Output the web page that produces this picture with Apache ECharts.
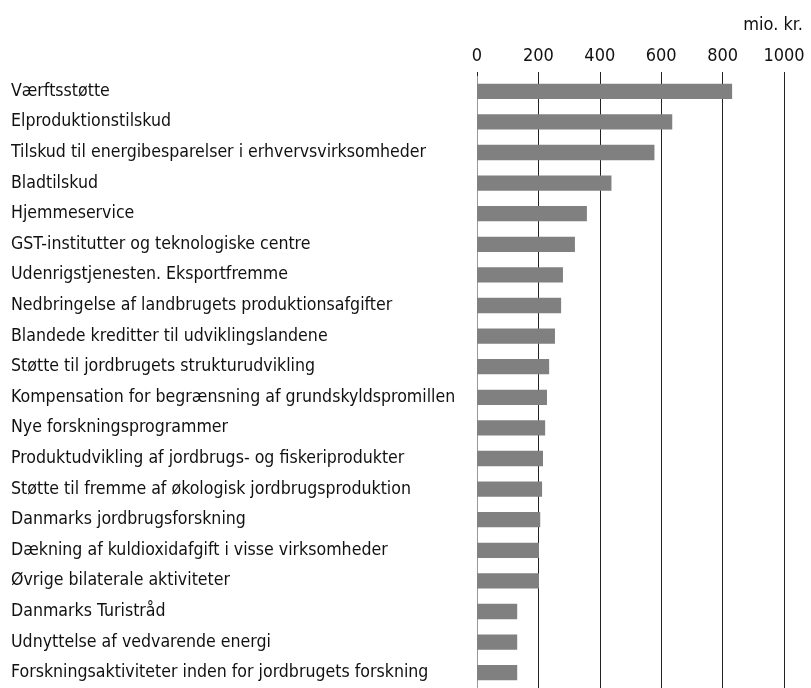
<!DOCTYPE html>
<html>
<head>
<meta charset="utf-8">
<script src="https://cdn.jsdelivr.net/npm/echarts@6/dist/echarts.min.js"></script>
<style>
  html, body { margin: 0; padding: 0; background: #fff; }
  #chart { width: 811px; height: 688px; }
</style>
</head>
<body>
<div id="chart"></div>
<script>
// støtteordninger, mio. kr.
var categories = [
  'Værftsstøtte',
  'Elproduktionstilskud',
  'Tilskud til energibesparelser i erhvervsvirksomheder',
  'Bladtilskud',
  'Hjemmeservice',
  'GST-institutter og teknologiske centre',
  'Udenrigstjenesten. Eksportfremme',
  'Nedbringelse af landbrugets produktionsafgifter',
  'Blandede kreditter til udviklingslandene',
  'Støtte til jordbrugets strukturudvikling',
  'Kompensation for begrænsning af grundskyldspromillen',
  'Nye forskningsprogrammer',
  'Produktudvikling af jordbrugs- og fiskeriprodukter',
  'Støtte til fremme af økologisk jordbrugsproduktion',
  'Danmarks jordbrugsforskning',
  'Dækning af kuldioxidafgift i visse virksomheder',
  'Øvrige bilaterale aktiviteter',
  'Danmarks Turistråd',
  'Udnyttelse af vedvarende energi',
  'Forskningsaktiviteter inden for jordbrugets forskning'
];
var values = [831, 636, 578, 438, 358, 319, 280, 274, 254, 235, 228, 222, 215, 212, 206, 202, 202, 131, 131, 131];
var unitLabel = 'mio. kr.';

var font = '"DejaVu Sans Condensed", "DejaVu Sans", sans-serif';
var chart = echarts.init(document.getElementById('chart'));
chart.setOption({
  animation: false,
  title: {
    text: unitLabel,
    right: 3, top: 11,
    textStyle: { fontFamily: font, fontSize: 18, fontWeight: 'normal', color: '#111' }
  },
  grid: { left: 477, right: 27, top: 76, bottom: -6 },
  xAxis: {
    type: 'value',
    position: 'top',
    min: 0, max: 1000, interval: 200,
    axisLine: { show: false },
    axisTick: { show: true, length: 4, lineStyle: { color: '#222' } },
    axisLabel: {
      margin: 11, fontFamily: font, fontSize: 18, color: '#111',
      formatter: function (v) { return String(v); }
    },
    splitLine: { show: true, lineStyle: { color: '#222', width: 1 } }
  },
  yAxis: {
    type: 'category',
    data: categories,
    inverse: true,
    axisLine: { show: true, lineStyle: { color: '#999' } },
    axisTick: { show: false },
    axisLabel: { align: 'left', margin: 466, fontFamily: font, fontSize: 17.6, color: '#111' }
  },
  series: [{
    type: 'bar',
    data: values,
    barWidth: '50%',
    itemStyle: { color: '#808080' }
  }]
});
</script>
</body>
</html>
